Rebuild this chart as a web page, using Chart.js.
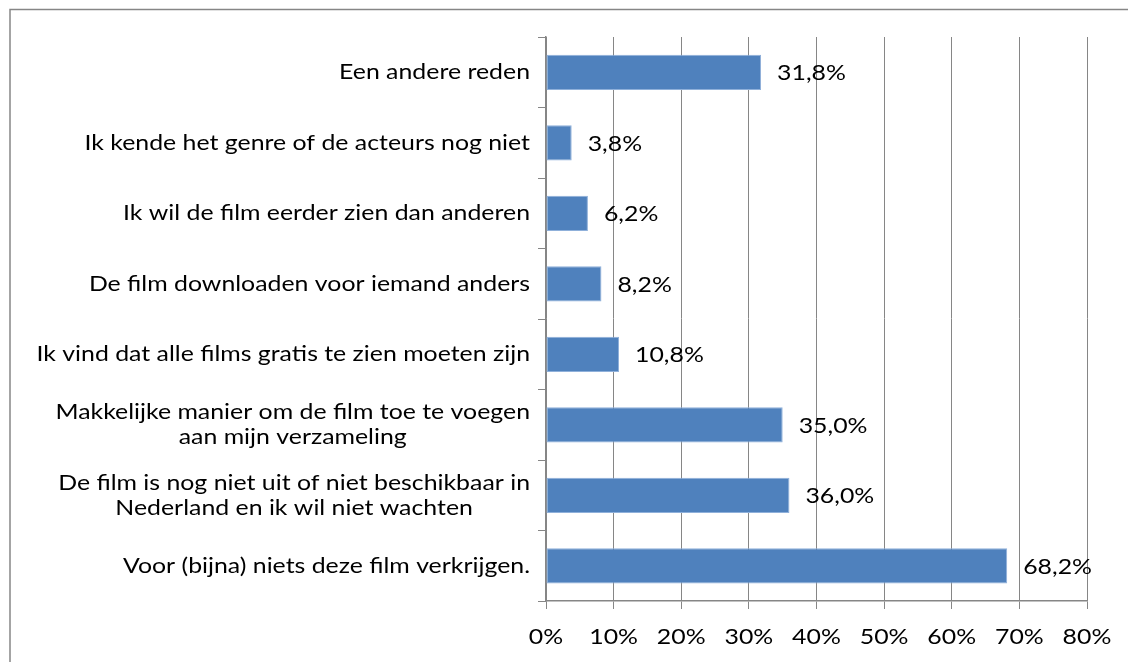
<!DOCTYPE html>
<html>
<head>
<meta charset="utf-8">
<script src="https://cdn.jsdelivr.net/npm/chart.js@4"></script>
<style>
  body { margin: 0; background: #fff; }
  #wrap { position: relative; width: 1128px; height: 662px; }
</style>
</head>
<body>
<div id="wrap"><canvas id="reasonsChart" width="1128" height="662"></canvas></div>
<script>
// Reasons (top to bottom as shown)
const reasons = [
    ['Een andere reden'],
    ['Ik kende het genre of de acteurs nog niet'],
    ['Ik wil de film eerder zien dan anderen'],
    ['De film downloaden voor iemand anders'],
    ['Ik vind dat alle films gratis te zien moeten zijn'],
    ['Makkelijke manier om de film toe te voegen', 'aan mijn verzameling'],
    ['De film is nog niet uit of niet beschikbaar in', 'Nederland en ik wil niet wachten'],
    ['Voor (bijna) niets deze film verkrijgen.']
];
const percentages = [31.8, 3.8, 6.2, 8.2, 10.8, 35.0, 36.0, 68.2];
const xTicks = [0, 10, 20, 30, 40, 50, 60, 70, 80];

const FONT = '22px Lato, "Noto Sans", sans-serif';
const SX = 1.13; // the original text is a bit wide
const gridGray = '#868686';

function fmt(v) {
    return v.toFixed(1).replace('.', ',') + '%';
}

// draw text stretched horizontally; align = 'left' | 'center' | 'right'
function drawText(ctx, text, x, y, align) {
    const w = ctx.measureText(text).width * SX;
    let left = x;
    if (align === 'center') left = x - w / 2;
    if (align === 'right') left = x - w;
    ctx.save();
    ctx.translate(left, y);
    ctx.scale(SX, 1);
    ctx.textAlign = 'left';
    ctx.fillText(text, 0, 0);
    ctx.restore();
}

// frame round the chart
const framePlugin = {
    id: 'frame',
    beforeDraw(chart) {
        const ctx = chart.ctx;
        ctx.save();
        ctx.fillStyle = '#fff';
        ctx.fillRect(0, 0, chart.width, chart.height);
        ctx.strokeStyle = gridGray;
        ctx.lineWidth = 1.5;
        ctx.strokeRect(10, 9.5, 1300, 800);
        ctx.restore();
    }
};

// category labels (block right aligned, lines centred) and x tick labels
const axisLabels = {
    id: 'axisLabels',
    afterDraw(chart) {
        const ctx = chart.ctx;
        const yScale = chart.scales.y;
        const xScale = chart.scales.x;
        ctx.save();
        ctx.font = FONT;
        ctx.fillStyle = '#000';
        ctx.textBaseline = 'middle';
        const right = 530;
        const lh = 25;
        reasons.forEach((lines, i) => {
            const cy = yScale.getPixelForValue(i);
            const w = Math.max(...lines.map(l => ctx.measureText(l).width)) * SX;
            const cx = right - w / 2;
            const y0 = cy - (lines.length - 1) * lh / 2;
            lines.forEach((l, j) => drawText(ctx, l, cx, y0 + j * lh, 'center'));
        });
        xTicks.forEach(v => {
            drawText(ctx, v + '%', xScale.getPixelForValue(v), 637, 'center');
        });
        ctx.restore();
    }
};

// value labels right of the bars
const valueLabels = {
    id: 'valueLabels',
    afterDatasetsDraw(chart) {
        const ctx = chart.ctx;
        const meta = chart.getDatasetMeta(0);
        ctx.save();
        ctx.font = FONT;
        ctx.fillStyle = '#000';
        ctx.textBaseline = 'middle';
        meta.data.forEach((bar, i) => {
            drawText(ctx, fmt(percentages[i]), bar.x + 16, bar.y + 1, 'left');
        });
        ctx.restore();
    }
};

new Chart(document.getElementById('reasonsChart'), {
    type: 'bar',
    data: {
        labels: reasons.map(r => r.join(' ')),
        datasets: [{
            data: percentages,
            backgroundColor: '#4F81BD',
            borderColor: '#8FB0DA',
            borderWidth: 1,
            borderSkipped: false,
            barPercentage: 0.5,
            categoryPercentage: 1.0
        }]
    },
    options: {
        indexAxis: 'y',
        responsive: false,
        animation: false,
        layout: { padding: { top: 37, right: 41, left: 0, bottom: 0 } },
        plugins: {
            legend: { display: false },
            tooltip: { enabled: false }
        },
        scales: {
            x: {
                min: 0,
                max: 80,
                afterBuildTicks: (scale) => { scale.ticks = xTicks.map(v => ({ value: v })); },
                afterFit: (scale) => { scale.height = 61; },
                grid: { color: gridGray, lineWidth: 1, tickLength: 8 },
                border: { color: gridGray, width: 1.5 },
                ticks: { display: false }
            },
            y: {
                afterFit: (scale) => { scale.width = 546; },
                grid: { offset: true, drawOnChartArea: false, color: gridGray, tickLength: 8 },
                border: { color: gridGray, width: 1.5 },
                ticks: { display: false }
            }
        }
    },
    plugins: [framePlugin, axisLabels, valueLabels]
});
</script>
</body>
</html>
